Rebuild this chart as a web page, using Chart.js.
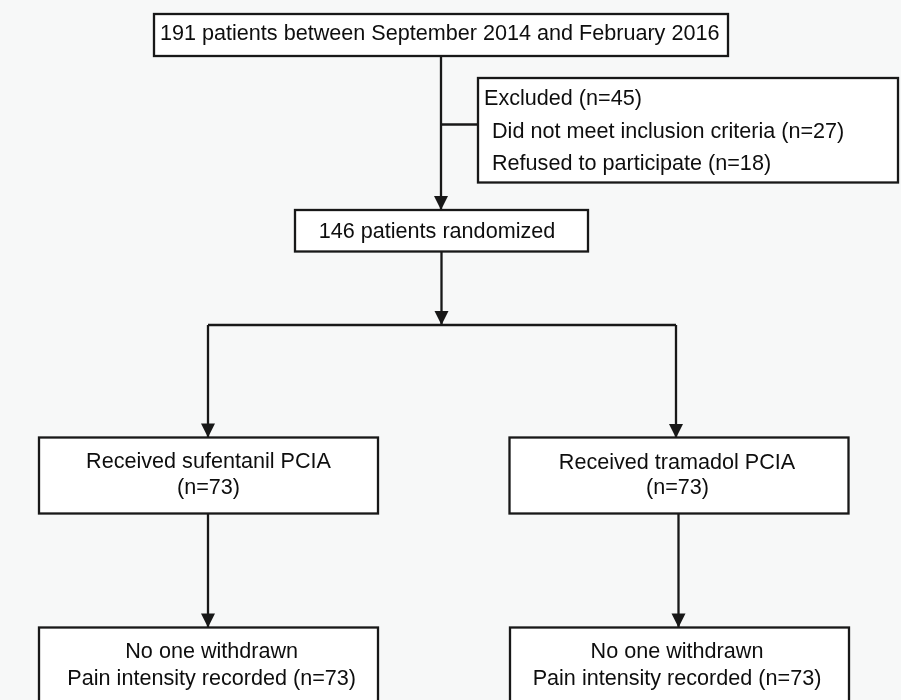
<!DOCTYPE html>
<html>
<head>
<meta charset="utf-8">
<script src="https://cdn.jsdelivr.net/npm/chart.js@4.4.1/dist/chart.umd.min.js"></script>
<style>
  html, body { margin: 0; padding: 0; background: #f7f8f8; }
  #wrap { width: 901px; height: 700px; position: relative; }
</style>
</head>
<body>
<div id="wrap"><canvas id="c"></canvas></div>
<script>
// ---- data (flow counts and texts) ----
const screenedCount = [191];
const periodText = ['September 2014', 'February 2016'];
const excludedCounts = [45, 27, 18];
const excludedReasons = ['Did not meet inclusion criteria', 'Refused to participate'];
const randomizedCount = [146];
const armNames = ['sufentanil', 'tramadol'];
const armCounts = [73, 73];
const withdrawnText = ['No one withdrawn'];

// ---- texts built from data ----
const nodeTexts = {
  screened: [screenedCount[0] + ' patients between ' + periodText[0] + ' and ' + periodText[1]],
  excluded: ['Excluded (n=' + excludedCounts[0] + ')',
             excludedReasons[0] + ' (n=' + excludedCounts[1] + ')',
             excludedReasons[1] + ' (n=' + excludedCounts[2] + ')'],
  randomized: [randomizedCount[0] + ' patients randomized'],
  armA: ['Received ' + armNames[0] + ' PCIA', '(n=' + armCounts[0] + ')'],
  armB: ['Received ' + armNames[1] + ' PCIA', '(n=' + armCounts[1] + ')'],
  outA: [withdrawnText[0], 'Pain intensity recorded (n=' + armCounts[0] + ')'],
  outB: [withdrawnText[0], 'Pain intensity recorded (n=' + armCounts[1] + ')']
};

// ---- layout (in axis units) ----
const layout = {
  screened:   { x0: 154, x1: 728, y0: 14, y1: 56, align: 'left', tx: [160], ty: [39.5] },
  excluded:   { x0: 478, x1: 898, y0: 78, y1: 182.5, align: 'left', tx: [484, 492, 492], ty: [105, 138, 169.5] },
  randomized: { x0: 295, x1: 588, y0: 210, y1: 251.5, align: 'center', tx: [437], ty: [237.5] },
  armA: { x0: 39, x1: 378, y0: 437.5, y1: 513.5, align: 'center', tx: [208.5, 208.5], ty: [468, 494] },
  armB: { x0: 509.5, x1: 848.5, y0: 437.5, y1: 513.5, align: 'center', tx: [677, 677.5], ty: [468.5, 494] },
  outA: { x0: 39, x1: 378, y0: 627.5, y1: 706, align: 'center', tx: [211.7, 211.7], ty: [658, 684.5] },
  outB: { x0: 510, x1: 849, y0: 627.5, y1: 706, align: 'center', tx: [677, 677], ty: [658, 684.5] }
};

const connectors = [
  { pts: [[441, 56], [441, 210]], arrow: true },
  { pts: [[441, 124.5], [478, 124.5]], arrow: false },
  { pts: [[441.5, 251.5], [441.5, 325]], arrow: true },
  { pts: [[208, 325], [676, 325]], arrow: false },
  { pts: [[208, 325], [208, 437.5]], arrow: true },
  { pts: [[676, 325], [676, 438]], arrow: true },
  { pts: [[208, 513.5], [208, 627.5]], arrow: true },
  { pts: [[678.5, 513.5], [678.5, 627.5]], arrow: true }
];

const LINE = '#181818';
const TEXT = '#0e0e0e';
const FONT = '21.6px "Liberation Sans", Arial, sans-serif';

const datasets = connectors.map(c => ({
  type: 'line',
  data: c.pts.map(p => ({ x: p[0], y: p[1] })),
  borderColor: LINE,
  borderWidth: 2.3,
  pointRadius: 0,
  fill: false,
  clip: false,
  tension: 0
}));

const flowPlugin = {
  id: 'flow',
  beforeDraw(chart) {
    const ctx = chart.ctx;
    ctx.save();
    ctx.fillStyle = '#f7f8f8';
    ctx.fillRect(0, 0, chart.width, chart.height);
    ctx.restore();
  },
  afterDatasetsDraw(chart) {
    const ctx = chart.ctx;
    const xs = chart.scales.x, ys = chart.scales.y;
    const X = v => xs.getPixelForValue(v), Y = v => ys.getPixelForValue(v);
    ctx.save();
    // arrowheads
    ctx.fillStyle = LINE;
    connectors.forEach(c => {
      if (!c.arrow) return;
      const [tx, ty] = c.pts[c.pts.length - 1];
      ctx.beginPath();
      ctx.moveTo(X(tx), Y(ty));
      ctx.lineTo(X(tx - 7), Y(ty - 14));
      ctx.lineTo(X(tx + 7), Y(ty - 14));
      ctx.closePath();
      ctx.fill();
    });
    // boxes
    Object.keys(layout).forEach(k => {
      const b = layout[k];
      const x0 = X(b.x0), x1 = X(b.x1), y0 = Y(b.y0), y1 = Y(b.y1);
      ctx.fillStyle = '#ffffff';
      ctx.fillRect(x0, y0, x1 - x0, y1 - y0);
      ctx.strokeStyle = LINE;
      ctx.lineWidth = 2.3;
      ctx.strokeRect(x0, y0, x1 - x0, y1 - y0);
      ctx.fillStyle = TEXT;
      ctx.font = FONT;
      ctx.textAlign = b.align;
      ctx.textBaseline = 'alphabetic';
      nodeTexts[k].forEach((t, i) => {
        ctx.fillText(t, X(b.tx[i]), Y(b.ty[i]));
      });
    });
    ctx.restore();
  }
};

new Chart(document.getElementById('c'), {
  type: 'scatter',
  data: { datasets },
  options: {
    responsive: true,
    maintainAspectRatio: false,
    animation: false,
    layout: { padding: 0 },
    plugins: { legend: { display: false }, tooltip: { enabled: false } },
    scales: {
      x: { type: 'linear', min: 0, max: 901, display: false },
      y: { type: 'linear', min: 0, max: 700, reverse: true, display: false }
    }
  },
  plugins: [flowPlugin]
});
</script>
</body>
</html>
